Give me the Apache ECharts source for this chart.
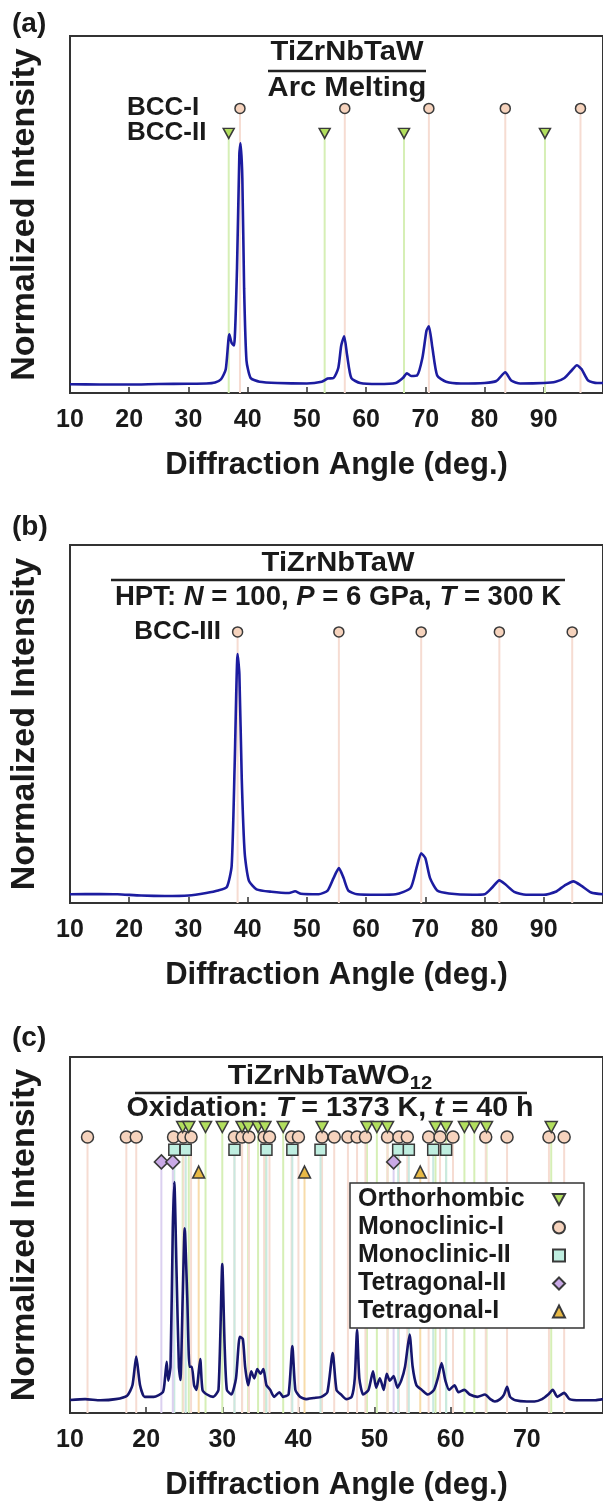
<!DOCTYPE html>
<html><head><meta charset="utf-8">
<script src="https://cdn.jsdelivr.net/npm/echarts/dist/echarts.min.js"></script>
<style>html,body{margin:0;padding:0;background:#fff}#c{width:603px;height:1508px}</style>
</head><body><div id="c"></div>
<script>
// ---------- data ----------
const xTicksAB = [10, 20, 30, 40, 50, 60, 70, 80, 90];
const xTicksC = [10, 20, 30, 40, 50, 60, 70];

// Panel (a) spectrum: Arc melting
const angleA = [10,15,20,25,30,33,34.5,35.5,36.3,36.9,37.3,37.7,38.2,38.6,38.8,39.1,39.4,39.8,40.5,42,45,50,52.5,53.5,54.5,55.3,55.8,56.3,56.8,57.5,59,62,65,66.2,66.9,67.6,68.6,69.5,70.2,70.6,71.2,72,73.5,76,80,82,83.5,84.5,86,90,92,93.5,94.7,95.6,96.4,97.5,99,100];
const intA   = [0.035,0.034,0.034,0.036,0.037,0.038,0.042,0.055,0.095,0.235,0.2,0.19,0.5,0.96,1.0,0.86,0.42,0.13,0.06,0.045,0.04,0.038,0.045,0.058,0.06,0.1,0.19,0.227,0.15,0.06,0.04,0.036,0.04,0.06,0.079,0.068,0.07,0.14,0.25,0.267,0.18,0.07,0.045,0.038,0.04,0.048,0.083,0.05,0.038,0.04,0.045,0.06,0.09,0.111,0.095,0.05,0.04,0.04];

// Panel (b) spectrum: HPT
const angleB = [10,15,18,22,26,30,33,35,36.5,37.3,37.8,38.3,38.6,39.0,39.5,40.2,41.5,44,47,48,49,52,53.5,54.5,55.4,56.2,57,58.5,62,65,67.5,68.5,69.3,70.0,70.8,72,74,78,80,81.2,82.5,83.5,85,87,90,92,93.5,95,96.3,98,100];
const intB   = [0.035,0.036,0.035,0.03,0.028,0.03,0.04,0.05,0.065,0.15,0.55,1.0,0.92,0.5,0.2,0.09,0.055,0.045,0.04,0.047,0.037,0.035,0.05,0.1,0.14,0.1,0.05,0.035,0.033,0.035,0.06,0.14,0.2,0.18,0.1,0.05,0.038,0.033,0.035,0.06,0.091,0.075,0.045,0.033,0.033,0.045,0.07,0.087,0.07,0.042,0.035];

// Panel (c) spectrum: oxidised
const angleC = [10,12,14,16,17.5,18.2,18.7,19.2,19.8,21,22.2,22.5,22.7,22.9,23.2,23.5,23.7,24.0,24.3,24.5,24.8,25.06,25.4,25.7,26.0,26.3,26.6,27.1,27.4,28,28.8,29.5,30.0,30.3,30.6,31.2,31.8,32.3,32.7,33.0,33.4,33.8,34.2,34.6,35.0,35.4,35.8,36.3,36.8,37.5,38,38.7,39.2,39.6,40.2,41,42,43,43.8,44.5,45,45.6,46.3,47,47.4,47.7,48.0,48.5,49.2,49.8,50.2,50.7,51.2,51.6,52.0,52.5,53.0,53.5,54.0,54.6,55.0,55.5,56.2,57,57.8,58.3,58.8,59.3,59.8,60.5,61,61.8,62.5,63.5,64.5,65.2,65.8,66.5,67.0,67.4,67.8,68.5,70,71,72,72.8,73.4,74.0,74.9,75.6,77,79,80];
const intC   = [0.056,0.06,0.055,0.06,0.075,0.12,0.244,0.12,0.07,0.07,0.09,0.16,0.222,0.14,0.2,0.8,1.0,0.6,0.2,0.143,0.5,0.8,0.5,0.2,0.2,0.12,0.1,0.234,0.1,0.08,0.07,0.1,0.645,0.3,0.1,0.08,0.15,0.33,0.32,0.2,0.12,0.18,0.15,0.19,0.17,0.19,0.12,0.1,0.07,0.09,0.07,0.08,0.29,0.1,0.07,0.06,0.065,0.07,0.09,0.26,0.1,0.08,0.06,0.07,0.15,0.36,0.15,0.08,0.1,0.18,0.11,0.15,0.1,0.17,0.14,0.16,0.11,0.14,0.2,0.34,0.2,0.12,0.1,0.08,0.1,0.15,0.216,0.14,0.1,0.12,0.09,0.1,0.08,0.07,0.08,0.06,0.05,0.06,0.08,0.113,0.07,0.055,0.05,0.05,0.06,0.08,0.1,0.07,0.087,0.06,0.055,0.055,0.06];

// Reference peak positions (deg.)
const bccI   = [38.7, 56.4, 70.6, 83.5, 96.2];
const bccII  = [36.8, 53.0, 66.4, 90.2];
const bccIII = [38.3, 55.4, 69.3, 82.5, 94.8];
const orthorhombic = [24.8, 25.6, 27.8, 30.0, 32.6, 33.4, 34.7, 35.6, 38.0, 43.1, 49.0, 50.3, 51.7, 58.0, 59.4, 61.8, 63.1, 64.7, 73.2];
const monoclinicI  = [12.3, 17.4, 18.7, 23.6, 24.9, 25.9, 31.6, 32.6, 33.5, 35.5, 36.2, 39.1, 40.0, 43.1, 44.7, 46.5, 47.7, 48.8, 51.7, 53.2, 54.3, 57.1, 58.6, 60.3, 64.6, 67.4, 72.9, 74.9];
const monoclinicII = [23.7, 25.2, 31.6, 35.8, 39.2, 42.9, 53.1, 54.5, 57.7, 59.4];
const tetragonalII = [22.0, 23.5, 52.5];
const tetragonalI  = [26.9, 40.8, 56.0];
const legendNames  = ['Orthorhombic', 'Monoclinic-I', 'Monoclinic-II', 'Tetragonal-II', 'Tetragonal-I'];

// ---------- build ----------
const FONT = '"Liberation Sans", Arial, sans-serif';
const zip = (a, b) => a.map((v, i) => [v, b[i]]);

// marker row heights (in normalized-intensity units) for each panel
const rowA = {bccI: 1.14, bccII: 1.04};
const rowB = {bccIII: 1.089};
const rowC = {orth: 1.238, monoI: 1.195, monoII: 1.139, tetII: 1.087, tetI: 1.043};

const DOWN = 'path://M0,0 L10,0 L5,9 Z';
const style = {
  circle:   {fill: '#f6d3bd', stem: '#f6dcd2'},
  down:     {fill: '#b2df5e', stem: '#d6efb6'},
  square:   {fill: '#bfeee0', stem: '#c9e9e0'},
  diamond:  {fill: '#c9a9e6', stem: '#dbd0f0'},
  up:       {fill: '#e8b945', stem: '#f7dcaa'}
};

function stems(list, level, color) {
  return list.map(x => ({value: [x, level], itemStyle: {color: color}}));
}
function stemSeries(idx, data) {
  return {type: 'bar', xAxisIndex: idx, yAxisIndex: idx, barWidth: 2, z: 1, silent: true,
          data: data, animation: false};
}
function marker(idx, name, list, level, symbol, fill, size) {
  return {type: 'scatter', name: name, xAxisIndex: idx, yAxisIndex: idx, z: 5,
          symbol: symbol, symbolSize: size,
          itemStyle: {color: fill, borderColor: '#3a3a3a', borderWidth: 1.5, opacity: 1},
          data: list.map(x => [x, level]), animation: false};
}
function spectrum(idx, a, b, color) {
  return {type: 'line', xAxisIndex: idx, yAxisIndex: idx, z: 3, showSymbol: false, smooth: 0.2,
          lineStyle: {color: color, width: 2.6}, data: zip(a, b), animation: false};
}

const grids = [
  {left: 68, top: 36, right: -9, height: 357},
  {left: 68, top: 545, right: -9, height: 358},
  {left: 68, top: 1057, right: -10, height: 356}
].map(g => Object.assign(g, {show: true, borderColor: '#333', borderWidth: 2, containLabel: false}));

function xAx(idx, max) {
  return {type: 'value', gridIndex: idx, min: 10, max: max, interval: 10,
    axisLine: {show: true, onZero: false, lineStyle: {color: '#333', width: 2}},
    axisTick: {show: true, inside: true, length: 6, lineStyle: {color: '#333', width: 1.5}},
    axisLabel: {show: true, showMaxLabel: false, fontSize: 25, fontWeight: 'bold', color: '#1a1a1a', fontFamily: FONT, margin: 15},
    splitLine: {show: false},
    name: 'Diffraction Angle (deg.)', nameLocation: 'middle', nameGap: 57,
    nameTextStyle: {fontSize: 31, fontWeight: 'bold', color: '#1a1a1a', fontFamily: FONT}};
}
function yAx(idx, max) {
  return {type: 'value', gridIndex: idx, min: 0, max: max,
    axisLine: {show: false}, axisTick: {show: false}, axisLabel: {show: false}, splitLine: {show: false},
    name: 'Normalized Intensity', nameLocation: 'middle', nameGap: 28, nameRotate: 90,
    nameTextStyle: {fontSize: 34, fontWeight: 'bold', color: '#1a1a1a', fontFamily: FONT}};
}

const series = [
  // (a)
  stemSeries(0, stems(bccI, rowA.bccI, style.circle.stem).concat(stems(bccII, rowA.bccII, style.down.stem))),
  spectrum(0, angleA, intA, '#1c1ca0'),
  marker(0, 'BCC-I', bccI, rowA.bccI, 'circle', style.circle.fill, 10),
  marker(0, 'BCC-II', bccII, rowA.bccII, DOWN, style.down.fill, [11, 10]),
  // (b)
  stemSeries(1, stems(bccIII, rowB.bccIII, style.circle.stem)),
  spectrum(1, angleB, intB, '#1c1ca0'),
  marker(1, 'BCC-III', bccIII, rowB.bccIII, 'circle', style.circle.fill, 10),
  // (c)
  stemSeries(2, stems(orthorhombic, rowC.orth, style.down.stem)
    .concat(stems(monoclinicI, rowC.monoI, style.circle.stem))
    .concat(stems(monoclinicII, rowC.monoII, style.square.stem))
    .concat(stems(tetragonalII, rowC.tetII, style.diamond.stem))
    .concat(stems(tetragonalI, rowC.tetI, style.up.stem))),
  spectrum(2, angleC, intC, '#16166e'),
  marker(2, 'Tetragonal-I', tetragonalI, rowC.tetI, 'triangle', style.up.fill, 12),
  marker(2, 'Tetragonal-II', tetragonalII, rowC.tetII, 'diamond', style.diamond.fill, 14),
  marker(2, 'Monoclinic-II', monoclinicII, rowC.monoII, 'rect', style.square.fill, 11),
  marker(2, 'Monoclinic-I', monoclinicI, rowC.monoI, 'circle', style.circle.fill, 12),
  marker(2, 'Orthorhombic', orthorhombic, rowC.orth, DOWN, style.down.fill, [12, 11])
];

function txt(x, y, text, size, align, sx) {
  return {type: 'text', x: x, y: y, z: 10, silent: true, scaleX: sx || 1,
    style: {text: text, fontSize: size, fontWeight: 'bold', fontFamily: FONT, fill: '#1a1a1a',
            align: align || 'center', verticalAlign: 'middle'}};
}
function rule(x1, x2, y) {
  return {type: 'line', z: 10, silent: true, shape: {x1: x1, y1: y, x2: x2, y2: y}, style: {stroke: '#222', lineWidth: 2.5}};
}
const rich = {
  b: {fontSize: 27, fontWeight: 'bold', fontFamily: FONT, fill: '#1a1a1a'},
  i: {fontSize: 27, fontWeight: 'bold', fontStyle: 'italic', fontFamily: FONT, fill: '#1a1a1a'},
  s: {fontSize: 18, fontWeight: 'bold', fontFamily: FONT, fill: '#1a1a1a', padding: [14, 0, 0, 0]}
};
function richTxt(x, y, text, sx) {
  return {type: 'text', x: x, y: y, z: 10, silent: true, scaleX: sx || 1,
    style: {text: text, rich: rich, align: 'center', verticalAlign: 'middle'}};
}

const graphic = [
  txt(12, 24, '(a)', 28, 'left'),
  txt(12, 527, '(b)', 28, 'left'),
  txt(12, 1038, '(c)', 28, 'left'),
  // (a)
  txt(347, 53, 'TiZrNbTaW', 27, 'center', 1.08),
  rule(268, 426, 71),
  txt(347, 89, 'Arc Melting', 27, 'center', 1.08),
  txt(127, 108, 'BCC-I', 26, 'left'),
  txt(127, 133, 'BCC-II', 26, 'left'),
  // (b)
  txt(338, 564, 'TiZrNbTaW', 27, 'center', 1.08),
  rule(111, 565, 580),
  richTxt(338, 598, '{b|HPT: }{i|N}{b| = 100, }{i|P}{b| = 6 GPa, }{i|T}{b| = 300 K}', 1.02),
  txt(221, 632, 'BCC-III', 26, 'right'),
  // (c)
  richTxt(330, 1077, '{b|TiZrNbTaWO}{s|12}', 1.12),
  rule(135, 527, 1093),
  richTxt(330, 1109, '{b|Oxidation: }{i|T}{b| = 1373 K, }{i|t}{b| = 40 h}', 1.06)
];

const option = {
  backgroundColor: '#fff',
  animation: false,
  grid: grids,
  xAxis: [xAx(0, 100), xAx(1, 100), xAx(2, 80)],
  yAxis: [yAx(0, 1.43), yAx(1, 1.438), yAx(2, 1.541)],
  legend: {
    data: legendNames,
    orient: 'vertical', left: 350, top: 1183, align: 'right', selectedMode: false,
    itemWidth: 12, itemHeight: 12, itemGap: 3,
    formatter: name => '{t|' + name + '}',
    textStyle: {fontSize: 25, fontWeight: 'bold', color: '#1a1a1a', fontFamily: FONT,
      rich: {t: {width: 190, align: 'left', fontSize: 25, fontWeight: 'bold', color: '#1a1a1a', fontFamily: FONT}}},
    borderColor: '#333', borderWidth: 1.5, backgroundColor: '#fff', padding: [4, 18, 4, 8], z: 8
  },
  graphic: graphic,
  series: series
};

const chart = echarts.init(document.getElementById('c'), null, {renderer: 'canvas'});
chart.setOption(option);
</script></body></html>
